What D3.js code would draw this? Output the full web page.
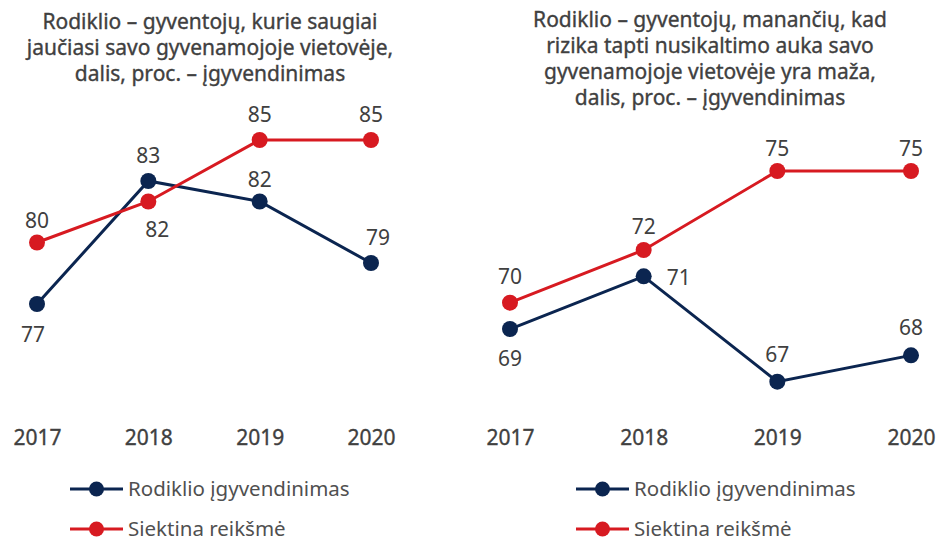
<!DOCTYPE html>
<html><head><meta charset="utf-8">
<script src="https://cdn.jsdelivr.net/npm/d3@7"></script>
<style>
html,body{margin:0;padding:0;background:#fff;}
svg{display:block;font-family:"Noto Sans","Open Sans",sans-serif;}
</style></head>
<body><svg id="c" width="940" height="542"></svg>
<script>
// ---- data ----
const years = ["2017","2018","2019","2020"];
const leftTitle = ["Rodiklio – gyventojų, kurie saugiai","jaučiasi savo gyvenamojoje vietovėje,","dalis, proc. – įgyvendinimas"];
const leftActual = [77, 83, 82, 79];
const leftTarget = [80, 82, 85, 85];
const rightTitle = ["Rodiklio – gyventojų, manančių, kad","rizika tapti nusikaltimo auka savo","gyvenamojoje vietovėje yra maža,","dalis, proc. – įgyvendinimas"];
const rightActual = [69, 71, 67, 68];
const rightTarget = [70, 72, 75, 75];
const seriesNames = ["Rodiklio įgyvendinimas", "Siektina reikšmė"];

// ---- layout / style ----
const colActual = "#0b2550", colTarget = "#d71a21", textCol = "#404040";
const svg = d3.select("#c");

function panel(cfg){
  const g = svg.append("g");
  const x = d3.scalePoint().domain(years).range(cfg.xr);
  const y = d3.scaleLinear().domain(cfg.yd).range(cfg.yr);
  // title
  g.append("text").attr("x", cfg.tx).attr("y", cfg.ty).attr("text-anchor","middle")
    .attr("fill", textCol).attr("font-size", 21).attr("stroke", textCol).attr("stroke-width", 0.35)
    .selectAll("tspan").data(cfg.title).join("tspan")
    .attr("x", cfg.tx).attr("dy", (d,i)=> i===0?0:26).text(d=>d);
  // axis labels
  const ax = g.append("g").attr("transform", `translate(0,${cfg.axisY})`)
    .call(d3.axisBottom(x).tickSize(0).tickPadding(0));
  ax.select(".domain").remove();
  ax.selectAll("text").attr("font-size", 21).attr("fill", textCol)
    .attr("stroke", textCol).attr("stroke-width", 0.35)
    .attr("font-family", "Noto Sans, sans-serif").attr("dy","0.35em").attr("y",0);
  const line = d3.line().x((d,i)=>x(years[i])).y(d=>y(d));
  const series = [
    {vals: cfg.actual, col: colActual, pos: cfg.posActual},
    {vals: cfg.target, col: colTarget, pos: cfg.posTarget}
  ];
  series.forEach(s=>{
    g.append("path").datum(s.vals).attr("d", line).attr("fill","none")
      .attr("stroke", s.col).attr("stroke-width", 3);
    g.selectAll(null).data(s.vals).join("circle")
      .attr("cx",(d,i)=>x(years[i])).attr("cy", d=>y(d)).attr("r", 8).attr("fill", s.col);
  });
  series.forEach(s=>{
    g.selectAll(null).data(s.vals).join("text")
      .attr("x",(d,i)=>x(years[i]) + (s.pos[i][0]))
      .attr("y",(d,i)=>y(d) + s.pos[i][1])
      .attr("dy","0.35em")
      .attr("text-anchor", (d,i)=> s.pos[i][2] || "middle")
      .attr("font-size", 21).attr("fill", textCol).text(d=>d);
  });
  // legend
  const lg = g.append("g");
  series.forEach((s,i)=>{
    const ly = cfg.legY + i*40;
    lg.append("line").attr("x1", cfg.legX).attr("x2", cfg.legX+53).attr("y1", ly).attr("y2", ly)
      .attr("stroke", s.col).attr("stroke-width", 3);
    lg.append("circle").attr("cx", cfg.legX+26.5).attr("cy", ly).attr("r", 7.5).attr("fill", s.col);
    lg.append("text").attr("x", cfg.legX+58).attr("y", ly).attr("dy","0.35em")
      .attr("font-size", 20.5).attr("fill", "#505050").text(seriesNames[i]);
  });
}

panel({
  xr:[37,371], yd:[77,85], yr:[304,140], tx:210, ty:29, title:leftTitle, axisY:438,
  actual:leftActual, target:leftTarget,
  posActual:[[-4,31],[0,-25],[0,-22],[7,-25]],
  posTarget:[[0,-22],[9,28],[0,-25],[0,-25]],
  legX:70, legY:489
});
panel({
  xr:[510,911], yd:[67,75], yr:[381.7,171], tx:710, ty:27, title:rightTitle, axisY:438,
  actual:rightActual, target:rightTarget,
  posActual:[[0,30],[23,1,"start"],[0,-27],[0,-28]],
  posTarget:[[0,-26],[0,-23],[0,-22],[0,-22]],
  legX:576, legY:489
});
</script></body></html>
